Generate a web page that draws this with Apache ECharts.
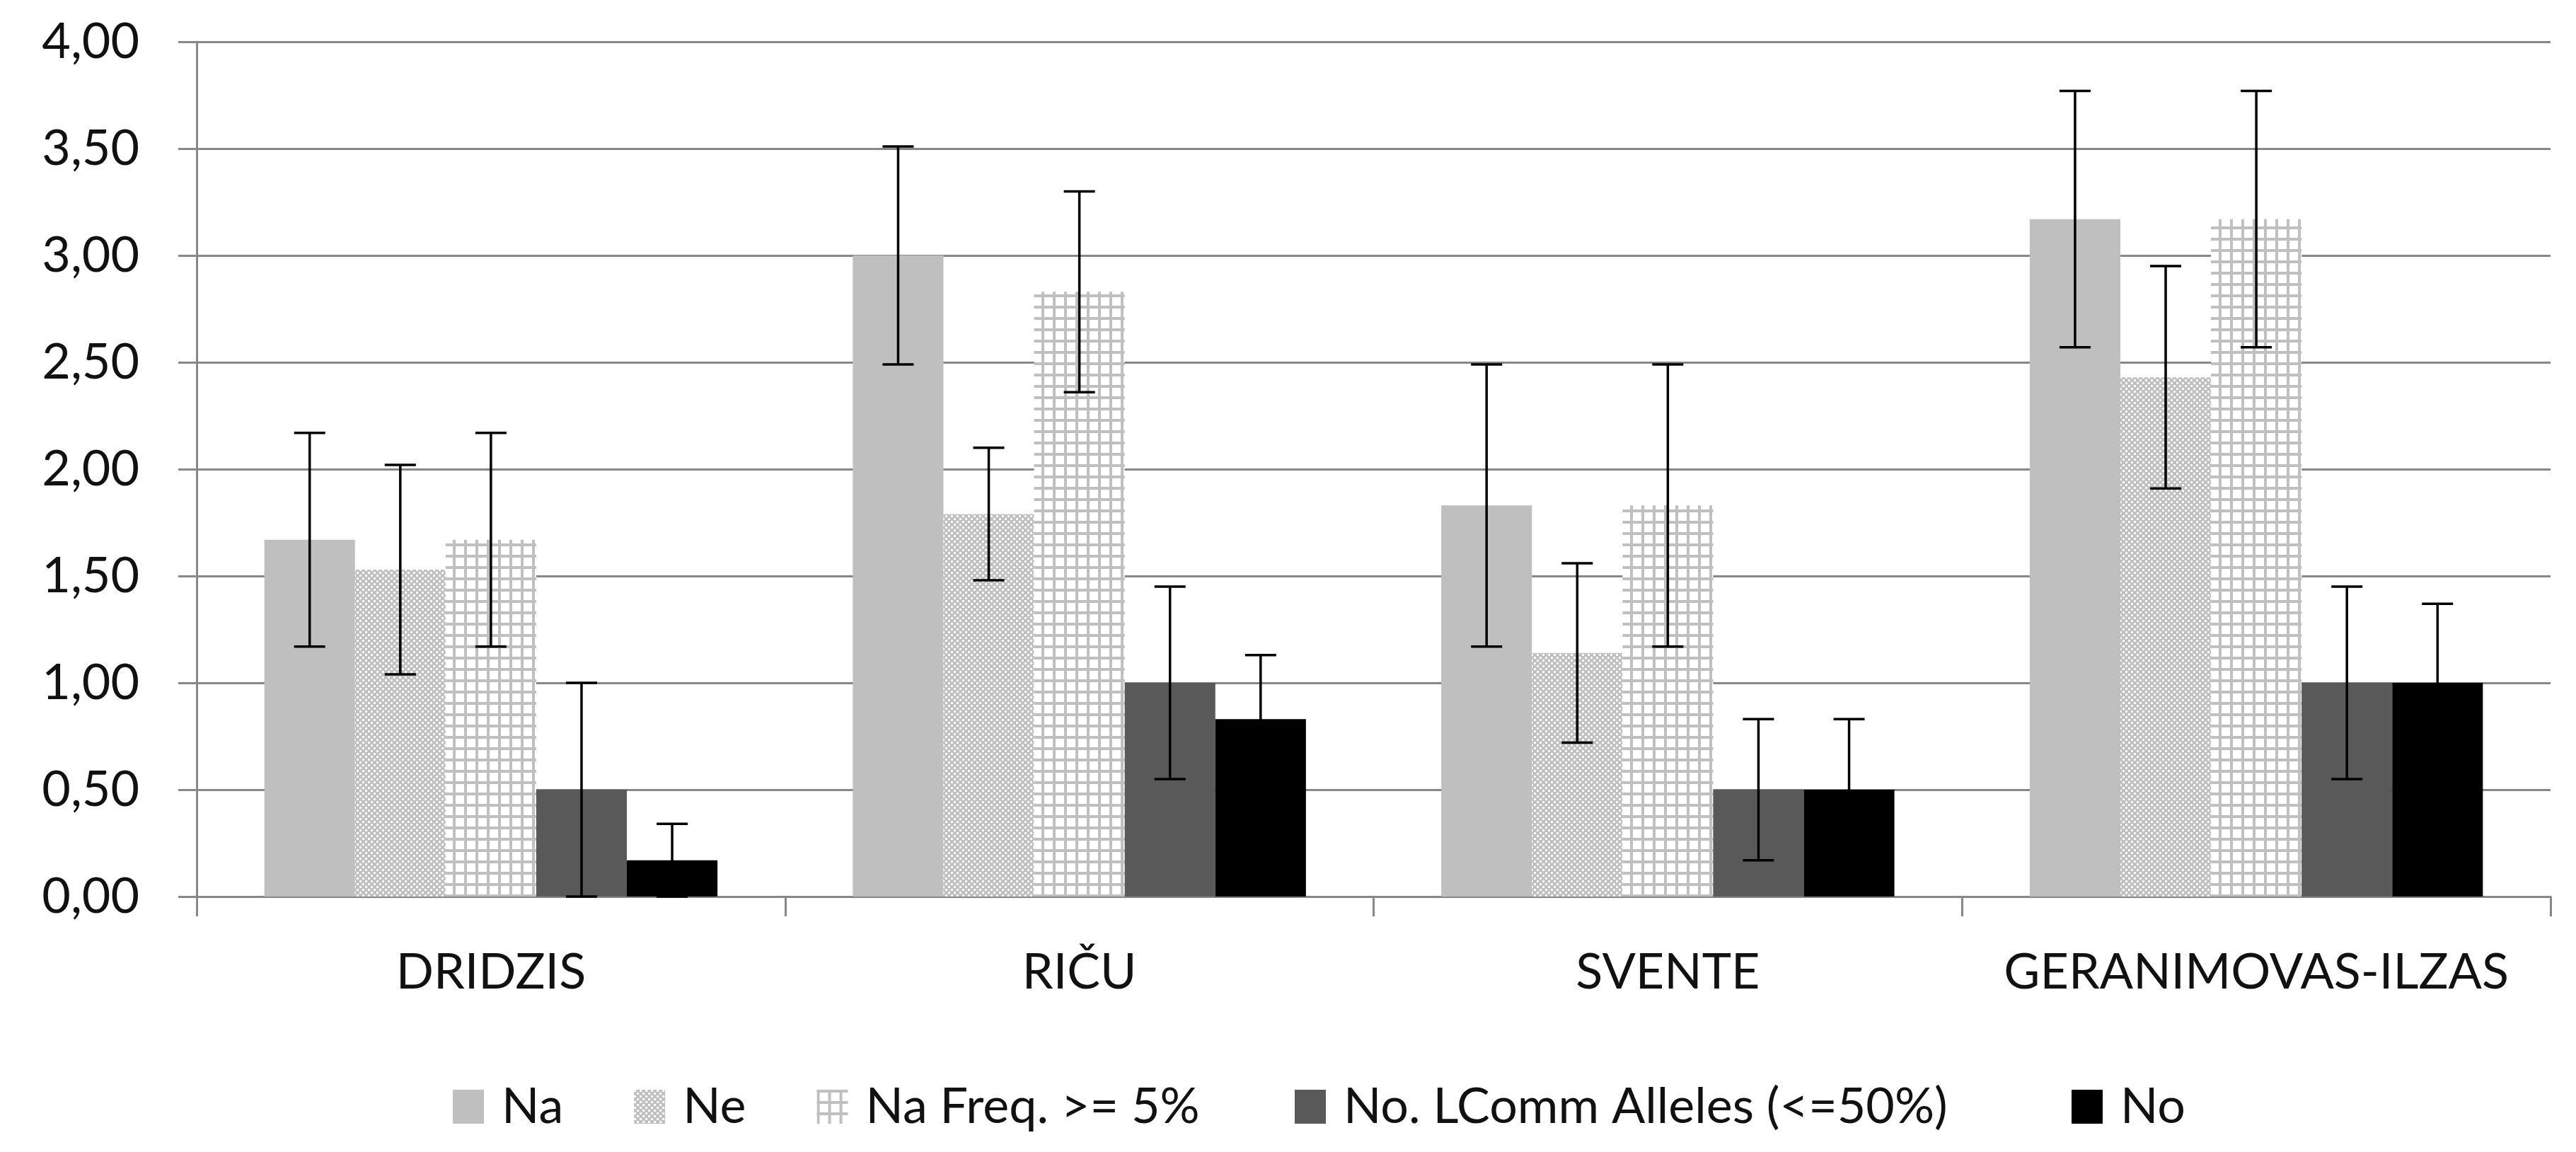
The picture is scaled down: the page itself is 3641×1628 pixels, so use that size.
<!DOCTYPE html>
<html>
<head>
<meta charset="utf-8">
<script src="https://cdn.jsdelivr.net/npm/echarts@6/dist/echarts.min.js"></script>
<style>
html,body{margin:0;padding:0;background:#fff;}
#chart{width:3641px;height:1628px;}
</style>
</head>
<body>
<div id="chart"></div>
<script>
// ---- data ----
var categories = ['DRIDZIS', 'RIČU', 'SVENTE', 'GERANIMOVAS-ILZAS'];
var seriesNames = ['Na', 'Ne', 'Na Freq. >= 5%', 'No. LComm Alleles (<=50%)', 'No'];
var naValues      = [1.67, 3.00, 1.83, 3.17];
var neValues      = [1.53, 1.79, 1.14, 2.43];
var naFreqValues  = [1.67, 2.83, 1.83, 3.17];
var lcommValues   = [0.50, 1.00, 0.50, 1.00];
var noValues      = [0.17, 0.83, 0.50, 1.00];
var naErr     = [0.50, 0.51, 0.66, 0.60];
var neErr     = [0.49, 0.31, 0.42, 0.52];
var naFreqErr = [0.50, 0.47, 0.66, 0.60];
var lcommErr  = [0.50, 0.45, 0.33, 0.45];
var noErr     = [0.17, 0.30, 0.33, 0.37];
var yTicks = {min: 0, max: 4, interval: 0.5};

var allValues = [naValues, neValues, naFreqValues, lcommValues, noValues];
var allErrs = [naErr, neErr, naFreqErr, lcommErr, noErr];

// ---- patterns ----
function makeNePattern() {
  var c = document.createElement('canvas');
  c.width = 8; c.height = 8;
  var g = c.getContext('2d');
  g.fillStyle = '#c0c0c0';
  g.fillRect(0, 0, 8, 8);
  g.fillStyle = '#ffffff';
  g.fillRect(0, 0, 3, 3);
  g.fillRect(4, 4, 3, 3);
  return c;
}
function makeGridPattern() {
  var c = document.createElement('canvas');
  c.width = 16; c.height = 16;
  var g = c.getContext('2d');
  g.fillStyle = '#ffffff';
  g.fillRect(0, 0, 16, 16);
  g.fillStyle = '#c0c0c0';
  g.fillRect(0, 0, 16, 4);
  g.fillRect(0, 0, 4, 16);
  return c;
}
var colors = [
  '#bfbfbf',
  {image: makeNePattern(), repeat: 'repeat'},
  {image: makeGridPattern(), repeat: 'repeat'},
  '#595959',
  '#000000'
];

var FONT = 'Lato, "Open Sans", "Liberation Sans", sans-serif';
var CAT_GAP = 0.23;

var series = [];
seriesNames.forEach(function (name, k) {
  series.push({
    name: name,
    type: 'bar',
    data: allValues[k],
    barGap: '0%',
    barCategoryGap: (CAT_GAP * 100) + '%',
    itemStyle: {color: colors[k]},
    emphasis: {disabled: true},
    z: 2
  });
});
seriesNames.forEach(function (name, k) {
  var data = allValues[k].map(function (v, i) { return [i, v, allErrs[k][i]]; });
  series.push({
    name: 'err_' + k,
    type: 'custom',
    z: 10,
    silent: true,
    data: data,
    encode: {x: 0, y: 1},
    renderItem: function (params, api) {
      var cat = api.value(0), v = api.value(1), e = api.value(2);
      var band = api.size([1, 0])[0];
      var bw = band * (1 - CAT_GAP) / seriesNames.length;
      var off = (k - (seriesNames.length - 1) / 2) * bw;
      var top = api.coord([cat, v + e]);
      var bot = api.coord([cat, v - e]);
      var x = top[0] + off;
      var half = 22;
      var style = {stroke: '#000', lineWidth: 3.5};
      return {
        type: 'group',
        children: [
          {type: 'line', shape: {x1: x, y1: top[1], x2: x, y2: bot[1]}, style: style},
          {type: 'line', shape: {x1: x - half, y1: top[1], x2: x + half, y2: top[1]}, style: style},
          {type: 'line', shape: {x1: x - half, y1: bot[1], x2: x + half, y2: bot[1]}, style: style}
        ]
      };
    }
  });
});

// legend split into groups so entries sit where the reference puts them
var legendGroups = [
  {names: seriesNames.slice(0, 3), left: 640},
  {names: seriesNames.slice(3, 4), left: 1830},
  {names: seriesNames.slice(4, 5), left: 2928}
];
var legends = legendGroups.map(function (g) {
  return {
    data: g.names,
    left: g.left,
    top: 1529,
    padding: 0,
    itemWidth: 44,
    itemHeight: 48,
    itemGap: 100,
    icon: 'rect',
    textStyle: {fontSize: 70, color: '#111', fontFamily: FONT, padding: [0, 0, 0, 20]},
    selectedMode: false
  };
});

var chart = echarts.init(document.getElementById('chart'), null, {renderer: 'canvas'});
chart.setOption({
  animation: false,
  backgroundColor: '#ffffff',
  textStyle: {fontFamily: FONT},
  grid: {left: 278, right: 36, top: 59, bottom: 361, containLabel: false},
  legend: legends,
  xAxis: {
    type: 'category',
    data: categories,
    axisLine: {show: true, lineStyle: {color: '#888', width: 3}},
    axisTick: {show: true, interval: 0, alignWithLabel: false, length: 28, lineStyle: {color: '#888', width: 3}},
    axisLabel: {interval: 0, fontSize: 70, color: '#111', fontFamily: FONT, margin: 72},
    splitLine: {show: false}
  },
  yAxis: {
    type: 'value',
    min: yTicks.min,
    max: yTicks.max,
    interval: yTicks.interval,
    axisLine: {show: true, lineStyle: {color: '#888', width: 3}},
    axisTick: {show: true, length: 26, lineStyle: {color: '#888', width: 3}},
    axisLabel: {
      fontSize: 70, color: '#111', fontFamily: FONT, margin: 81,
      formatter: function (v) { return v.toFixed(2).replace('.', ','); }
    },
    splitLine: {show: true, lineStyle: {color: '#888', width: 3}}
  },
  series: series
});
</script>
</body>
</html>
